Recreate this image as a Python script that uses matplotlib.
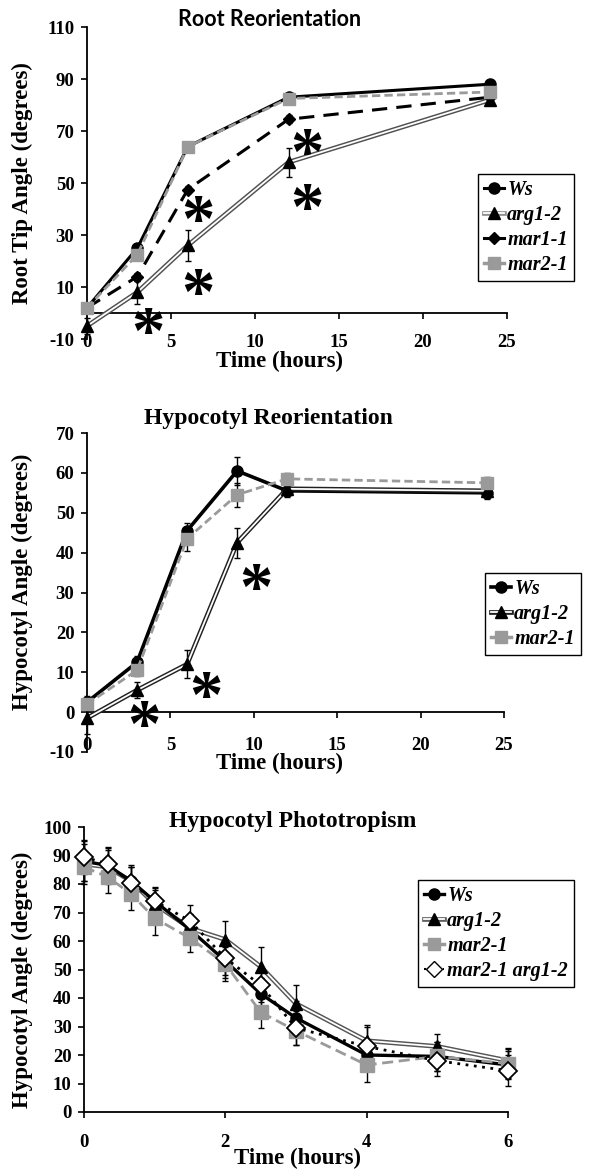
import numpy as np
import matplotlib
matplotlib.use('Agg')
import matplotlib.pyplot as plt
from matplotlib.lines import Line2D
from matplotlib.legend_handler import HandlerTuple

plt.rcParams['font.family'] = ['Liberation Serif', 'DejaVu Serif']
plt.rcParams['font.weight'] = 'bold'
plt.rcParams['axes.unicode_minus'] = False

# Root reorientation
root_t = [0, 3, 6, 12, 24]
root_ws = [2, 25, 64, 83, 88]
root_ws_err = [1, 1.5, 1.5, 1.5, 1.5]
root_arg = [-5, 8, 26, 58, 82]
root_arg_err = [3, 4.5, 6, 5.5, 2]
root_mar1 = [2, 14, 47.5, 74.5, 83]
root_mar1_err = [1, 1.5, 1.5, 1.5, 1.5]
root_mar2 = [2, 22.5, 64, 82.5, 85]
root_mar2_err = [1, 1.5, 1.5, 1.5, 1.5]
root_stars_x = [3.6, 6.6, 6.6, 13.1, 13.1]
root_stars_y = [-2, 41, 13, 66.5, 45.5]

# Hypocotyl reorientation
hyp_t = [0, 3, 6, 9, 12, 24]
hyp_ws = [2.5, 12.5, 45.5, 60.5, 55.5, 55]
hyp_ws_err = [1.5, 1.5, 2, 3.5, 1.5, 1.5]
hyp_arg = [-1.5, 5.5, 12, 42.5, 56, 55.5]
hyp_arg_err = [4, 2, 3.5, 3.8, 1.5, 1.5]
hyp_mar2 = [2, 10.5, 43.5, 54.5, 58.5, 57.5]
hyp_mar2_err = [1.5, 1.5, 3, 3, 1.5, 1.5]
hyp_stars_x = [3.4, 7.1, 10.1]
hyp_stars_y = [0, 7.3, 34.4]

# Hypocotyl phototropism
pho_t = [0, 1/3, 2/3, 1, 1.5, 2, 2.5, 3, 4, 5, 6]
pho_ws = [88, 86.5, 81, 74, 64, 53, 41.5, 33, 20, 19.5, 16.5]
pho_ws_err = [7, 6, 5, 4.5, 5, 6, 5.5, 6, 5, 5, 5]
pho_arg = [87, 86, 81, 73, 64.5, 60.5, 51, 38, 25, 23, 18]
pho_arg_err = [7, 6, 5, 5, 5, 6.5, 7, 6.5, 5.5, 4.5, 4.5]
pho_mar2 = [86, 82.5, 76.5, 68, 61, 52, 35, 28.5, 16.5, 19.5, 17]
pho_mar2_err = [5, 5.5, 5.5, 6, 5, 6, 5.5, 5, 6, 5, 5]
pho_dbl = [89.5, 87, 80.5, 74, 67, 54, 44.5, 29.5, 23, 18, 14.5]
pho_dbl_err = [6, 6, 6, 5, 5.5, 6, 6, 6, 7, 5.5, 5.5]

W, H = 594, 1170
fig = plt.figure(figsize=(W / 100, H / 100), dpi=100)


def px_axes(left, right, top, bottom):
    return fig.add_axes([left / W, 1 - bottom / H, (right - left) / W, (bottom - top) / H])


def style_axes(ax, pad_x):
    ax.spines['top'].set_visible(False)
    ax.spines['right'].set_visible(False)
    ax.spines['bottom'].set_position(('data', 0))
    ax.spines['left'].set_linewidth(1.3)
    ax.spines['bottom'].set_linewidth(1.3)
    ax.tick_params(axis='both', direction='out', length=4, width=1.2, labelsize=13.5)
    ax.tick_params(axis='x', pad=pad_x)
    ax.tick_params(axis='y', pad=5)


def double_line(ax, x, y, outer, z):
    ax.plot(x, y, color=outer, lw=3.4, zorder=z, clip_on=False, solid_capstyle='butt')
    ax.plot(x, y, color='white', lw=1.3, zorder=z + 0.1, clip_on=False)
    ax.plot(x, y, ls='none', marker='^', color='black', ms=8, zorder=z + 0.2, clip_on=False)


def errs(ax, x, y, e, z):
    ax.errorbar(x, y, yerr=e, fmt='none', ecolor='black', elinewidth=1, capsize=2,
                capthick=1, zorder=z, clip_on=False)


def stars(ax, xs, ys, fs=48):
    for x, y in zip(xs, ys):
        ax.annotate('*', (x, y), xytext=(0, -0.5 * fs), textcoords='offset points',
                    ha='center', va='baseline', fontsize=fs, fontweight='bold',
                    annotation_clip=False)


def arg_handle(outer):
    return (Line2D([], [], color=outer, lw=3.4),
            Line2D([], [], color='white', lw=1.3),
            Line2D([], [], ls='none', marker='^', color='black', ms=8))


leg_kw = dict(frameon=True, fancybox=False, edgecolor='black', framealpha=1,
              handlelength=1.0, handletextpad=0.15, borderpad=0.3, labelspacing=0.25,
              borderaxespad=0, prop={'size': 14.5, 'weight': 'bold', 'style': 'italic'},
              handler_map={tuple: HandlerTuple(ndivide=1)}, bbox_transform=fig.transFigure)

grey = '#9a9a9a'
lab_fs = 16.5
ttl_fs = 17

# ---- panel 1 ----
ax1 = px_axes(87, 507, 27, 339)
ax1.set_xlim(0, 25)
ax1.set_ylim(-10, 110)
ax1.set_xticks(range(0, 26, 5))
ax1.set_yticks(range(-10, 111, 20))
style_axes(ax1, 11)
errs(ax1, root_t, root_ws, root_ws_err, 1)
errs(ax1, root_t, root_arg, root_arg_err, 1)
errs(ax1, root_t, root_mar1, root_mar1_err, 1)
ax1.plot(root_t, root_ws, color='black', lw=2.2, marker='o', ms=8, zorder=2, clip_on=False)
double_line(ax1, root_t, root_arg, '#505050', 3)
ax1.plot(root_t, root_mar1, color='black', lw=2.2, ls=(0, (5, 3)), marker='D', ms=6.5,
         zorder=4, clip_on=False)
ax1.plot(root_t, root_mar2, color=grey, lw=2, ls=(0, (3, 1.5)), marker='s', ms=9,
         zorder=5, clip_on=False)
stars(ax1, root_stars_x, root_stars_y)
fig.text(280 / W, 1 - 361 / H, 'Time (hours)', ha='center', va='center', fontsize=lab_fs)
fig.text(22 / W, 1 - 183 / H, 'Root Tip Angle (degrees)', ha='center', va='center',
         rotation=90, fontsize=lab_fs)
fig.text(270 / W, 1 - 20 / H, 'Root Reorientation', ha='center', va='center',
         fontsize=15.5, family='Lato', fontweight='bold')
h1 = [Line2D([], [], color='black', lw=2.2, marker='o', ms=8),
      arg_handle('#909090'),
      Line2D([], [], color='black', lw=2.2, marker='D', ms=6.5),
      Line2D([], [], color=grey, lw=2.5, marker='s', ms=8)]
ax1.legend(h1, ['Ws', 'arg1-2', 'mar1-1', 'mar2-1'], loc='upper left',
           bbox_to_anchor=(478 / W, 1 - 174 / H), **leg_kw)

# ---- panel 2 ----
ax2 = px_axes(87, 504, 433, 752)
ax2.set_xlim(0, 25)
ax2.set_ylim(-10, 70)
ax2.set_xticks(range(0, 26, 5))
ax2.set_yticks(range(-10, 71, 10))
style_axes(ax2, 14)
errs(ax2, hyp_t, hyp_ws, hyp_ws_err, 1)
errs(ax2, hyp_t, hyp_arg, hyp_arg_err, 1)
errs(ax2, hyp_t, hyp_mar2, hyp_mar2_err, 1)
ax2.plot(hyp_t, hyp_ws, color='black', lw=2.6, marker='o', ms=8, zorder=2, clip_on=False)
double_line(ax2, hyp_t, hyp_arg, '#202020', 3)
ax2.plot(hyp_t, hyp_mar2, color=grey, lw=2, ls=(0, (3, 1.5)), marker='s', ms=9,
         zorder=5, clip_on=False)
stars(ax2, hyp_stars_x, hyp_stars_y)
fig.text(280 / W, 1 - 763 / H, 'Time (hours)', ha='center', va='center', fontsize=lab_fs)
fig.text(22 / W, 1 - 582 / H, 'Hypocotyl Angle (degrees)', ha='center', va='center',
         rotation=90, fontsize=lab_fs)
fig.text(268 / W, 1 - 418 / H, 'Hypocotyl Reorientation', ha='center', va='center',
         fontsize=ttl_fs)
h2 = [Line2D([], [], color='black', lw=2.6, marker='o', ms=8),
      arg_handle('#202020'),
      Line2D([], [], color=grey, lw=2.5, marker='s', ms=8)]
ax2.legend(h2, ['Ws', 'arg1-2', 'mar2-1'], loc='upper left',
           bbox_to_anchor=(485 / W, 1 - 573 / H), **leg_kw)

# ---- panel 3 ----
ax3 = px_axes(84, 508, 827, 1112)
ax3.set_xlim(0, 6)
ax3.set_ylim(0, 100)
ax3.set_xticks(range(0, 7, 2))
ax3.set_yticks(range(0, 101, 10))
style_axes(ax3, 11.5)
errs(ax3, pho_t, pho_ws, pho_ws_err, 1)
errs(ax3, pho_t, pho_arg, pho_arg_err, 1)
errs(ax3, pho_t, pho_mar2, pho_mar2_err, 1)
errs(ax3, pho_t, pho_dbl, pho_dbl_err, 1)
ax3.plot(pho_t, pho_ws, color='black', lw=2.4, marker='o', ms=8, zorder=3, clip_on=False)
double_line(ax3, pho_t, pho_arg, '#555555', 2)
ax3.plot(pho_t, pho_mar2, color=grey, lw=2, ls=(0, (4, 2)), marker='s', ms=10,
         zorder=4, clip_on=False)
ax3.plot(pho_t, pho_dbl, color='black', lw=2, ls=(0, (1, 2)), marker='D', ms=9,
         mfc='white', mec='black', mew=1.3, zorder=6, clip_on=False)
fig.text(297 / W, 1 - 1158 / H, 'Time (hours)', ha='center', va='center', fontsize=lab_fs)
fig.text(22 / W, 1 - 980 / H, 'Hypocotyl Angle (degrees)', ha='center', va='center',
         rotation=90, fontsize=lab_fs)
fig.text(293 / W, 1 - 822 / H, 'Hypocotyl Phototropism', ha='center', va='center',
         fontsize=ttl_fs)
h3 = [Line2D([], [], color='black', lw=2.4, marker='o', ms=8),
      arg_handle('#606060'),
      Line2D([], [], color=grey, lw=2.5, marker='s', ms=8),
      Line2D([], [], color='black', lw=1.5, ls=(0, (1, 2)), marker='D', ms=8,
             mfc='white', mec='black')]
ax3.legend(h3, ['Ws', 'arg1-2', 'mar2-1', 'mar2-1 arg1-2'], loc='upper left',
           bbox_to_anchor=(418 / W, 1 - 880 / H), **leg_kw)

fig.savefig('out.png', dpi=100)
